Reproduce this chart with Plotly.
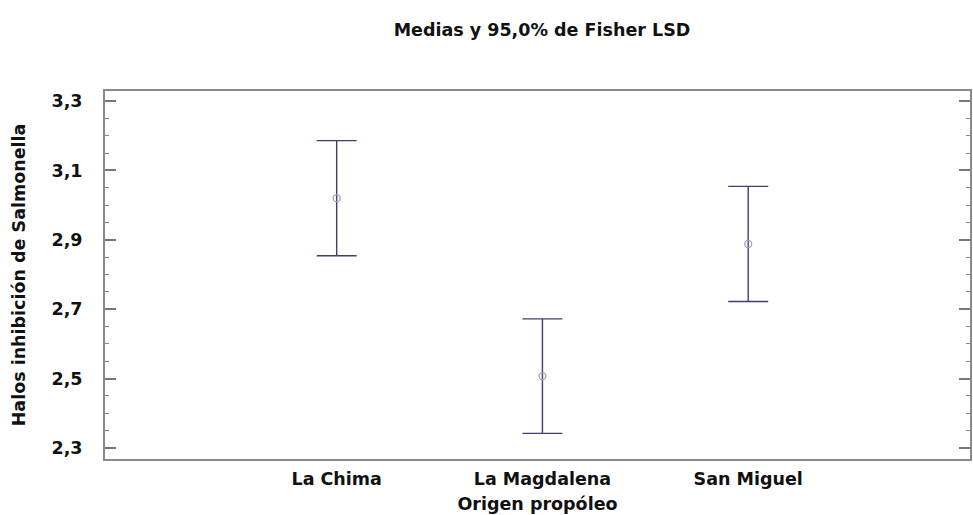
import plotly.graph_objects as go

categories = ["La Chima", "La Magdalena", "San Miguel"]
positions = [1, 2, 3]
means = [3.020, 2.507, 2.888]
lsd_half = [0.166, 0.165, 0.166]

y_ticks = [2.3, 2.5, 2.7, 2.9, 3.1, 3.3]

navy = "#3f3f70"
font_family = "DejaVu Sans, Liberation Sans, Arial, sans-serif"
fs = 17.5

fig = go.Figure()
fig.add_trace(go.Scatter(
    x=positions, y=means, mode="markers",
    marker=dict(symbol="circle-open", size=7, color="#a0a0b8", line=dict(width=1.3)),
    error_y=dict(type="data", array=lsd_half, symmetric=True,
                 color=navy, thickness=1.4, width=20),
    showlegend=False,
))

fig.update_layout(
    width=973, height=515,
    margin=dict(l=105, r=1, t=91, b=56),
    paper_bgcolor="white", plot_bgcolor="white",
    separators=",.",
    font=dict(family=font_family, size=fs, color="#111111", weight="bold"),
    title=dict(text="Medias y 95,0% de Fisher LSD", x=0.557, xanchor="center",
               y=0.942, yanchor="middle",
               font=dict(size=fs, family=font_family, weight="bold", color="#111111")),
)

fig.update_xaxes(
    range=[-0.126, 4.078],
    tickmode="array", tickvals=positions, ticktext=categories,
    showgrid=False, zeroline=False,
    showline=True, linecolor="#8a8a8a", linewidth=2, mirror=True,
    ticks="", ticklabelstandoff=3,
    title=dict(text="Origen propóleo", standoff=10,
               font=dict(size=fs, family=font_family, weight="bold")),
)

fig.update_yaxes(
    range=[2.268, 3.329],
    tickmode="array", tickvals=y_ticks, tickformat=".1f",
    showgrid=False, zeroline=False,
    showline=True, linecolor="#8a8a8a", linewidth=2, mirror="ticks",
    ticks="inside", ticklen=11, tickwidth=1.5, tickcolor="#777777",
    minor=dict(dtick=0.05, ticks="inside", ticklen=4, tickwidth=1, tickcolor="#888888"),
    ticklabelstandoff=17,
    title=dict(text="Halos inhibición de Salmonella", standoff=21,
               font=dict(size=fs, family=font_family, weight="bold")),
)

fig.write_html("out.html")
